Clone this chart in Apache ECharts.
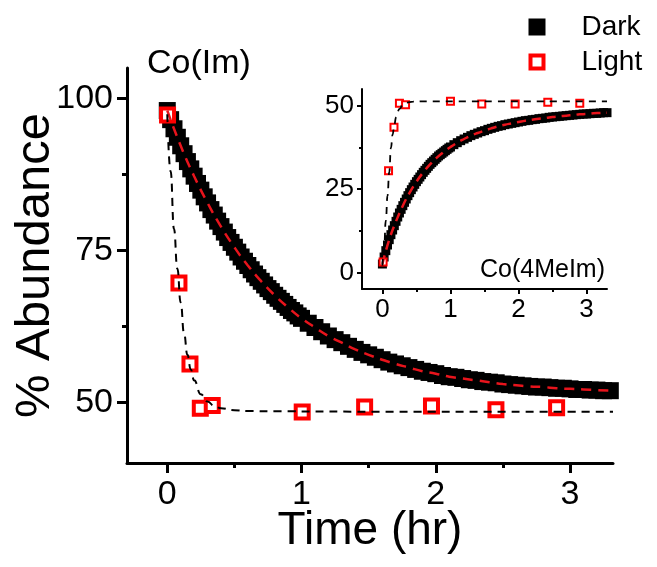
<!DOCTYPE html>
<html>
<head>
<meta charset="utf-8">
<script src="https://cdn.jsdelivr.net/npm/echarts@6.0.0/dist/echarts.min.js"></script>
<style>
  html, body { margin: 0; padding: 0; background: #fff; }
  #chart { width: 657px; height: 567px; }
</style>
</head>
<body>
<div id="chart"></div>
<script>
// time grid of the dark (continuous) measurement, hr
var darkTime = [0, 0.025, 0.05, 0.075, 0.1, 0.125, 0.15, 0.175, 0.2, 0.225,
  0.25, 0.275, 0.3, 0.325, 0.35, 0.375, 0.4, 0.425, 0.45, 0.475,
  0.5, 0.525, 0.55, 0.575, 0.6, 0.625, 0.65, 0.675, 0.7, 0.725,
  0.75, 0.775, 0.8, 0.825, 0.85, 0.875, 0.9, 0.925, 0.95, 0.975,
  1.0, 1.05, 1.1, 1.15, 1.2, 1.25, 1.3, 1.35, 1.4, 1.45,
  1.5, 1.55, 1.6, 1.65, 1.7, 1.75, 1.8, 1.85, 1.9, 1.95,
  2.0, 2.05, 2.1, 2.15, 2.2, 2.25, 2.3, 2.35, 2.4, 2.45,
  2.5, 2.55, 2.6, 2.65, 2.7, 2.75, 2.8, 2.85, 2.9, 2.95,
  3.0, 3.05, 3.1, 3.15, 3.2, 3.25, 3.3];

// Co(Im) - main plot
var imDark = [98.0, 96.5, 95.0, 93.6, 92.2, 90.9, 89.6, 88.4, 87.2, 86.0,
  84.9, 83.8, 82.8, 81.7, 80.8, 79.8, 78.9, 78.0, 77.1, 76.3,
  75.5, 74.7, 73.9, 73.2, 72.5, 71.8, 71.1, 70.5, 69.9, 69.3,
  68.7, 68.2, 67.6, 67.1, 66.6, 66.1, 65.6, 65.1, 64.7, 64.2,
  63.8, 63.0, 62.3, 61.6, 60.9, 60.3, 59.8, 59.2, 58.7, 58.2,
  57.8, 57.4, 57.0, 56.6, 56.3, 56.0, 55.7, 55.4, 55.1, 54.9,
  54.7, 54.4, 54.2, 54.1, 53.9, 53.7, 53.6, 53.4, 53.3, 53.2,
  53.0, 52.9, 52.8, 52.7, 52.6, 52.5, 52.5, 52.4, 52.3, 52.3,
  52.2, 52.1, 52.1, 52.0, 52.0, 51.9, 51.9];
var imLightTime = [0.002, 0.087, 0.169, 0.246, 0.335, 1.005, 1.47, 1.968, 2.448, 2.90];
var imLight = [97.25, 69.6, 56.3, 49.0, 49.45, 48.4, 49.2, 49.4, 48.75, 49.1];
var fitTime = [0, 0.1, 0.2, 0.3, 0.4, 0.5, 0.6, 0.7, 0.8, 0.9,
  1.0, 1.1, 1.2, 1.3, 1.4, 1.5, 1.6, 1.7, 1.8, 1.9,
  2.0, 2.1, 2.2, 2.3, 2.4, 2.5, 2.6, 2.7, 2.8, 2.9,
  3.0, 3.1, 3.2, 3.32];
var imDarkFit = [98.0, 92.2, 87.2, 82.8, 78.9, 75.5, 72.5, 69.9, 67.6, 65.6,
  63.8, 62.3, 60.9, 59.8, 58.7, 57.8, 57.0, 56.3, 55.7, 55.1,
  54.7, 54.2, 53.9, 53.6, 53.3, 53.0, 52.8, 52.6, 52.5, 52.3,
  52.2, 52.1, 52.0, 51.9];
var imLightFitTime = [0, 0.025, 0.05, 0.075, 0.1, 0.125, 0.15, 0.175, 0.2, 0.25, 0.3, 0.35, 0.4, 0.5, 0.6, 0.8, 1.5, 3.32];
var imLightFit = [97.4, 88.0, 78.5, 72.0, 66.4, 61.3, 57.8, 55.4, 53.6, 51.3, 50.1, 49.4, 49.0, 48.7, 48.55, 48.5, 48.45, 48.45];

// Co(4MeIm) - inset
var meDark = [2.5, 4.6, 6.5, 8.2, 9.8, 11.3, 12.7, 14.0, 15.3, 16.6,
  17.8, 18.9, 20.0, 21.0, 22.0, 23.0, 23.9, 24.8, 25.6, 26.4,
  27.2, 27.9, 28.6, 29.3, 30.0, 30.6, 31.2, 31.8, 32.4, 32.9,
  33.4, 33.9, 34.4, 34.9, 35.3, 35.7, 36.1, 36.5, 36.9, 37.3,
  37.6, 38.3, 38.9, 39.5, 40.0, 40.5, 41.0, 41.4, 41.8, 42.2,
  42.5, 42.9, 43.2, 43.5, 43.8, 44.0, 44.3, 44.5, 44.7, 44.9,
  45.1, 45.3, 45.5, 45.6, 45.8, 45.9, 46.1, 46.2, 46.3, 46.5,
  46.6, 46.7, 46.8, 46.9, 47.0, 47.1, 47.2, 47.3, 47.4, 47.5,
  47.5, 47.6, 47.7, 47.7, 47.8, 47.9, 47.9];
var meLightTime = [0.01, 0.09, 0.17, 0.25, 0.34, 1.0, 1.46, 1.95, 2.43, 2.90];
var meLight = [3.1, 30.5, 43.5, 50.7, 50.3, 51.3, 50.5, 50.5, 51.0, 50.7];
var meDarkFit = [2.5, 9.8, 15.3, 20.0, 23.9, 27.2, 30.0, 32.4, 34.4, 36.1,
  37.6, 38.9, 40.0, 41.0, 41.8, 42.5, 43.2, 43.8, 44.3, 44.7,
  45.1, 45.5, 45.8, 46.1, 46.3, 46.6, 46.8, 47.0, 47.2, 47.4,
  47.5, 47.7, 47.8, 47.9];
var meLightFitTime = [0, 0.025, 0.05, 0.075, 0.1, 0.125, 0.15, 0.175, 0.2, 0.25, 0.3, 0.35, 0.45, 0.6, 3.3];
var meLightFit = [2.0, 7.5, 15.5, 23.0, 30.0, 37.3, 41.3, 44.3, 46.5, 49.0, 50.3, 50.9, 51.2, 51.3, 51.3];

var mainTicksX = [0, 1, 2, 3];
var mainMinorX = [0.5, 1.5, 2.5];
var mainTicksY = [50, 75, 100];
var mainMinorY = [62.5, 87.5];
var insetTicksY = [0, 25, 50];
var insetMinorY = [12.5, 37.5];

function pairs(xs, ys) {
  return xs.map(function (x, i) { return [x, ys[i]]; });
}

var FONT = 'Liberation Sans, Arial, sans-serif';

function axis(opt) {
  // one axis with custom ticks (major or minor)
  return {
    type: 'value',
    gridIndex: opt.grid,
    min: opt.min,
    max: opt.max,
    position: opt.position,
    axisLine: { show: opt.line, onZero: false, lineStyle: { color: '#000', width: opt.width } },
    axisTick: { show: true, customValues: opt.ticks, length: opt.len, lineStyle: { color: '#000', width: opt.width } },
    axisLabel: opt.labelSize ? {
      show: true, customValues: opt.ticks, fontSize: opt.labelSize, color: '#000',
      fontFamily: FONT, margin: opt.margin
    } : { show: false },
    splitLine: { show: false },
    name: opt.name || '',
    nameLocation: 'middle',
    nameGap: opt.nameGap || 0,
    nameMoveOverlap: false,
    nameRotate: opt.nameRotate,
    nameTextStyle: { fontSize: opt.nameSize || 12, color: '#000', fontFamily: FONT }
  };
}

var chart = echarts.init(document.getElementById('chart'));

var option = {
  animation: false,
  backgroundColor: '#fff',
  grid: [
    { left: 127, top: 68, right: 44, bottom: 104, outerBoundsMode: 'none' },
    { left: 362, top: 89, right: 50, bottom: 278, outerBoundsMode: 'none' }
  ],
  xAxis: [
    axis({ grid: 0, min: -0.3, max: 3.32, position: 'bottom', line: true, width: 3, ticks: mainTicksX, len: 10,
      labelSize: 34, margin: 15, name: 'Time (hr)', nameGap: 45, nameSize: 46 }),
    axis({ grid: 0, min: -0.3, max: 3.32, position: 'bottom', line: false, width: 3, ticks: mainMinorX, len: 5 }),
    axis({ grid: 1, min: -0.3, max: 3.3, position: 'bottom', line: true, width: 2, ticks: mainTicksX, len: 5,
      labelSize: 26, margin: 8 }),
    axis({ grid: 1, min: -0.3, max: 3.3, position: 'bottom', line: false, width: 2, ticks: mainMinorX, len: 3 })
  ],
  yAxis: [
    axis({ grid: 0, min: 40, max: 105, position: 'left', line: true, width: 3, ticks: mainTicksY, len: 10,
      labelSize: 34, margin: 14, name: '% Abundance', nameGap: 67, nameSize: 49, nameRotate: 90 }),
    axis({ grid: 0, min: 40, max: 105, position: 'left', line: false, width: 3, ticks: mainMinorY, len: 5 }),
    axis({ grid: 1, min: -5, max: 55, position: 'left', line: true, width: 2, ticks: insetTicksY, len: 5,
      labelSize: 26, margin: 8 }),
    axis({ grid: 1, min: -5, max: 55, position: 'left', line: false, width: 2, ticks: insetMinorY, len: 3 })
  ],
  legend: {
    orient: 'vertical',
    left: 528.5,
    top: 12,
    padding: 0,
    itemWidth: 13,
    itemHeight: 13,
    itemGap: 5,
    icon: 'rect',
    selectedMode: false,
    textStyle: { fontSize: 28, color: '#000', fontFamily: FONT, lineHeight: 30, padding: [0, 0, 0, 33] },
    data: [
      { name: 'Dark', itemStyle: { color: '#000', borderColor: '#000', borderWidth: 4, opacity: 1 } },
      { name: 'Light', itemStyle: { color: '#fff', borderColor: '#ff0000', borderWidth: 4, opacity: 1 } }
    ]
  },
  graphic: [
    { type: 'text', style: { x: 147, y: 64, text: 'Co(Im)', fontSize: 34, fontFamily: FONT, fill: '#000', verticalAlign: 'middle' } },
    { type: 'text', style: { x: 605, y: 270, text: 'Co(4MeIm)', fontSize: 25, fontFamily: FONT, fill: '#000', align: 'right', verticalAlign: 'middle' } }
  ],
  series: [
    {
      name: 'Dark', type: 'scatter', xAxisIndex: 0, yAxisIndex: 0,
      symbol: 'rect', symbolSize: 17, itemStyle: { color: '#000', opacity: 1 },
      data: pairs(darkTime, imDark), emphasis: { disabled: true }
    },
    {
      name: 'Light', type: 'scatter', xAxisIndex: 0, yAxisIndex: 0,
      symbol: 'rect', symbolSize: 13,
      itemStyle: { color: '#fff', borderColor: '#ff0000', borderWidth: 4, opacity: 1 },
      data: pairs(imLightTime, imLight), emphasis: { disabled: true }
    },
    {
      name: 'Dark fit', type: 'line', xAxisIndex: 0, yAxisIndex: 0,
      showSymbol: false, symbol: 'none', smooth: true,
      lineStyle: { color: '#e8141c', width: 2.5, type: [10, 7] },
      data: pairs(fitTime, imDarkFit), emphasis: { disabled: true }
    },
    {
      name: 'Light fit', type: 'line', xAxisIndex: 0, yAxisIndex: 0,
      showSymbol: false, symbol: 'none', smooth: true, smoothMonotone: 'x',
      lineStyle: { color: '#000', width: 2, type: [8, 6] },
      data: pairs(imLightFitTime, imLightFit), emphasis: { disabled: true }
    },
    // inset
    {
      name: 'Dark', type: 'scatter', xAxisIndex: 2, yAxisIndex: 2,
      symbol: 'rect', symbolSize: 9, itemStyle: { color: '#000', opacity: 1 },
      data: pairs(darkTime, meDark), emphasis: { disabled: true }
    },
    {
      name: 'Light', type: 'scatter', xAxisIndex: 2, yAxisIndex: 2,
      symbol: 'rect', symbolSize: 7,
      itemStyle: { color: '#fff', borderColor: '#ff0000', borderWidth: 2, opacity: 1 },
      data: pairs(meLightTime, meLight), emphasis: { disabled: true }
    },
    {
      name: 'Dark fit', type: 'line', xAxisIndex: 2, yAxisIndex: 2,
      showSymbol: false, symbol: 'none', smooth: true,
      lineStyle: { color: '#e8141c', width: 2.5, type: [9, 6] },
      data: pairs(fitTime.slice(0, 33).concat([3.3]), meDarkFit), emphasis: { disabled: true }
    },
    {
      name: 'Light fit', type: 'line', xAxisIndex: 2, yAxisIndex: 2,
      showSymbol: false, symbol: 'none', smooth: true, smoothMonotone: 'x',
      lineStyle: { color: '#000', width: 1.8, type: [7, 6] },
      data: pairs(meLightFitTime, meLightFit), emphasis: { disabled: true }
    }
  ]
};

chart.setOption(option);
</script>
</body>
</html>
